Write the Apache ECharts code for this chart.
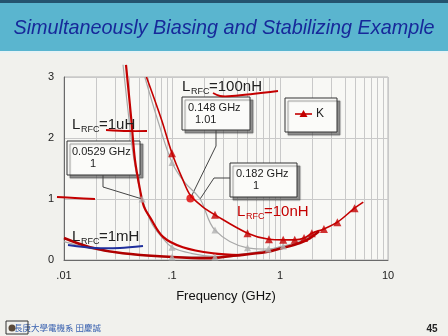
<!DOCTYPE html>
<html><head><meta charset="utf-8">
<script src="https://cdn.jsdelivr.net/npm/echarts@6/dist/echarts.min.js"></script>
<style>html,body{margin:0;padding:0;background:#f1f1ed;}#c{width:448px;height:336px;}</style>
</head><body><div id="c"></div><script>
// ---- data ----
const xTicks = [0.01, 0.1, 1, 10];
const xTickLabels = ['.01', '.1', '1', '10'];
const yTicks = [0, 1, 2, 3];
const gridMinorX = [0.02,0.03,0.04,0.05,0.06,0.07,0.08,0.09,0.2,0.3,0.4,0.5,0.6,0.7,0.8,0.9,2,3,4,5,6,7,8,9];
const gray1mH = [[0.01,0.30],[0.02,0.17],[0.05,0.08],[0.1,0.05],[0.25,0.05],[0.5,0.11],[0.8,0.17],[1.07,0.23]];
const gray1uH = [[0.0352,3.2],[0.04,2.3],[0.0445,1.64],[0.0529,1.0],[0.065,0.6],[0.08,0.38],[0.1,0.21],[0.15,0.11],[0.25,0.06],[0.4,0.07]];
const gray100nH = [[0.056,3.0],[0.075,2.25],[0.1,1.6],[0.13,1.28],[0.182,1.0],[0.25,0.49],[0.5,0.2],[0.78,0.18],[1.07,0.23],[1.5,0.3],[2.0,0.42]];
const redK = [[0.058,3.0],[0.08,2.3],[0.1,1.75],[0.125,1.33],[0.148,1.06],[0.19,0.88],[0.25,0.74],[0.5,0.44],[0.79,0.34],[1.07,0.33],[1.37,0.33],[1.67,0.36],[1.97,0.44],[2.55,0.51],[3.4,0.62],[4.9,0.85],[5.9,0.95]];
const redMarkers = [[0.1,1.75],[0.25,0.74],[0.5,0.44],[0.79,0.34],[1.07,0.33],[1.37,0.33],[1.67,0.36],[1.97,0.44],[2.55,0.51],[3.4,0.62],[4.9,0.85]];
const redDot = [[0.148,1.01]];
const grayMarkers = [[0.0529,1.0],[0.1,1.6],[0.1,0.21],[0.1,0.05],[0.25,0.49],[0.25,0.05],[0.5,0.2],[0.78,0.18],[1.07,0.23]];
const red1uHSketch = [[0.0375,3.2],[0.042,2.3],[0.0454,1.64],[0.0506,1.15],[0.0551,0.87],[0.0626,0.70],[0.0826,0.38],[0.126,0.21],[0.24,0.11],[0.43,0.08]];
const red1mHSketch = [[0.01,0.36],[0.0174,0.21],[0.035,0.11],[0.1,0.05],[0.21,0.03],[0.37,0.07],[0.75,0.13],[1.07,0.2],[1.53,0.28],[1.9,0.36],[2.3,0.47]];
const markerPts = {a:[0.0529,1.0], b:[0.148,1.01], c:[0.182,1.0]};

const FF = '"Liberation Sans", Arial, sans-serif';
const RED = '#c40000', GRAY = '#a8a8a8';
const chart = echarts.init(document.getElementById('c'), null, {renderer:'canvas'});
const lineS = (data, color, w, z, extra) => Object.assign({type:'line', data, smooth:0.35, showSymbol:false, symbol:'none', clip:false, z,
  lineStyle:{color, width:w}, itemStyle:{color}, silent:true, animation:false}, extra||{});
chart.setOption({
  backgroundColor:'#f1f1ed',
  animation:false,
  grid:{left:64, right:60, top:77, bottom:76, show:true, backgroundColor:'#f8f8f5', borderColor:'#b4b4b4', borderWidth:1},
  xAxis:{type:'log', logBase:10, min:0.01, max:10,
    axisLine:{show:true, lineStyle:{color:'#6a6a6a'}}, axisTick:{show:false},
    splitLine:{show:true, lineStyle:{color:'#c9c9c9'}},
    axisLabel:{color:'#222', fontSize:11, fontFamily:FF, margin:10,
      formatter:v=>xTickLabels[Math.round(Math.log10(v))+2]},
    name:'Frequency (GHz)', nameLocation:'middle', nameGap:30,
    nameTextStyle:{color:'#111', fontSize:13, fontFamily:FF}},
  yAxis:{type:'value', min:yTicks[0], max:yTicks[yTicks.length-1], interval:1,
    axisLine:{show:true, lineStyle:{color:'#6a6a6a'}}, axisTick:{show:false},
    splitLine:{show:true, lineStyle:{color:'#c9c9c9'}},
    axisLabel:{color:'#222', fontSize:11, fontFamily:FF, margin:10}},
  series:[
    lineS(gray1mH, GRAY, 1.2, 4, {markLine:{z:1, silent:true, symbol:'none', label:{show:false}, animation:false,
      lineStyle:{color:'#c9c9c9', type:'solid', width:1}, data:gridMinorX.map(v=>({xAxis:v}))}}),
    lineS(gray1uH, GRAY, 1.2, 4),
    lineS(gray100nH, GRAY, 1.2, 4),
    lineS(redK, RED, 1.6, 5),
    lineS(red1uHSketch, RED, 2.2, 5),
    lineS(red1mHSketch, '#b00000', 2.6, 5),
    {type:'scatter', data:grayMarkers, symbol:'triangle', symbolSize:7, itemStyle:{color:'#b0b0b0'}, z:6, silent:true},
    {type:'scatter', data:redMarkers, symbol:'triangle', symbolSize:8, itemStyle:{color:RED}, z:7, silent:true},
    {type:'scatter', data:redDot, symbol:'circle', symbolSize:8, itemStyle:{color:'#e00000'}, z:7, silent:true}
  ]
});

const px = p => chart.convertToPixel({gridIndex:0}, p);
const pa = px(markerPts.a), pb = px(markerPts.b), pc = px(markerPts.c);
const box = (x,y,w,h) => ({type:'rect', z:3, shape:{x,y,width:w,height:h},
  style:{fill:'#fbfbf9', stroke:'#333', lineWidth:1, shadowColor:'rgba(60,60,60,0.55)', shadowOffsetX:3, shadowOffsetY:3, shadowBlur:1}});
const txt = (x,y,t,font,fill,align) => ({type:'text', z:9, x, y, style:{text:t, font, fill:fill||'#222', verticalAlign:'middle', align:align||'left'}});
const lrfc = (x,base,val,fill) => [
  txt(x, base-5, 'L', '15px '+FF, fill),
  txt(x+9, base, 'RFC', '9px '+FF, fill),
  txt(x+27, base-5, '='+val, '15px '+FF, fill)
];
const pline = (pts, stroke, w, z, smooth) => ({type:'polyline', z:z, shape:{points:pts, smooth:smooth||0}, style:{stroke, lineWidth:w, fill:null}});
const els = [
  {type:'rect', z:0, shape:{x:0,y:0,width:448,height:51}, style:{fill:'#5ab5cf'}},
  {type:'rect', z:0, shape:{x:0,y:0,width:448,height:3}, style:{fill:'#24536f'}},
  {type:'rect', z:0, shape:{x:0,y:51,width:448,height:2}, style:{fill:'#e6f2f5'}},
  txt(224, 28, 'Simultaneously Biasing and Stabilizing Example', 'italic 19.8px '+FF, '#17299a', 'center'),
  // callout boxes
  box(67,141,73,34), txt(72,152,'0.0529 GHz','11px '+FF), txt(90,164,'1','11px '+FF),
  box(182,97,68,33), txt(188,108,'0.148 GHz','11px '+FF), txt(195,120,'1.01','11px '+FF),
  box(230,163,67,34), txt(236,174,'0.182 GHz','11px '+FF), txt(253,186,'1','11px '+FF),
  pline([[103,175],[103,187],[pa[0],pa[1]]], '#444', 1, 3),
  pline([[216,130],[216,146],[pb[0],pb[1]]], '#444', 1, 3),
  pline([[230,178],[214,178],[pc[0],pc[1]]], '#444', 1, 3),
  // legend
  box(285,98,52,34),
  {type:'line', z:9, shape:{x1:295,y1:114,x2:312,y2:114}, style:{stroke:RED, lineWidth:1.6}},
  {type:'polygon', z:9, shape:{points:[[303.5,110],[299.5,117],[307.5,117]]}, style:{fill:RED}},
  txt(316,114,'K','12px '+FF),
  // L_RFC labels
  ...lrfc(182,92,'100nH'), ...lrfc(72,130,'1uH'), ...lrfc(72,242,'1mH'), ...lrfc(237,217,'10nH',RED),
  // hand-drawn marks
  pline([[213,93],[220,96],[232,96],[278,91]], RED, 1.8, 10, 0.3),
  pline([[106,130],[128,131],[147,131]], RED, 1.8, 10, 0.3),
  pline([[57,197],[75,198],[95,199]], RED, 2, 10, 0.3),
  pline([[68,245],[95,248],[120,248],[143,246]], '#1f2f9c', 2, 10, 0.3),
  // footer
  {type:'rect', z:10, shape:{x:6,y:321,width:22,height:13}, style:{fill:null, stroke:'#333', lineWidth:1}},
  {type:'circle', z:10, shape:{cx:12,cy:328,r:3.5}, style:{fill:'#5a4a3a'}},
  txt(14,328,'長庚大學電機系 田慶誠','8.5px "Noto Sans CJK TC"','#3a62b0'),
  txt(432,329,'45','bold 10px '+FF,'#222','center')
];
chart.setOption({graphic:{elements:els}});
</script></body></html>
